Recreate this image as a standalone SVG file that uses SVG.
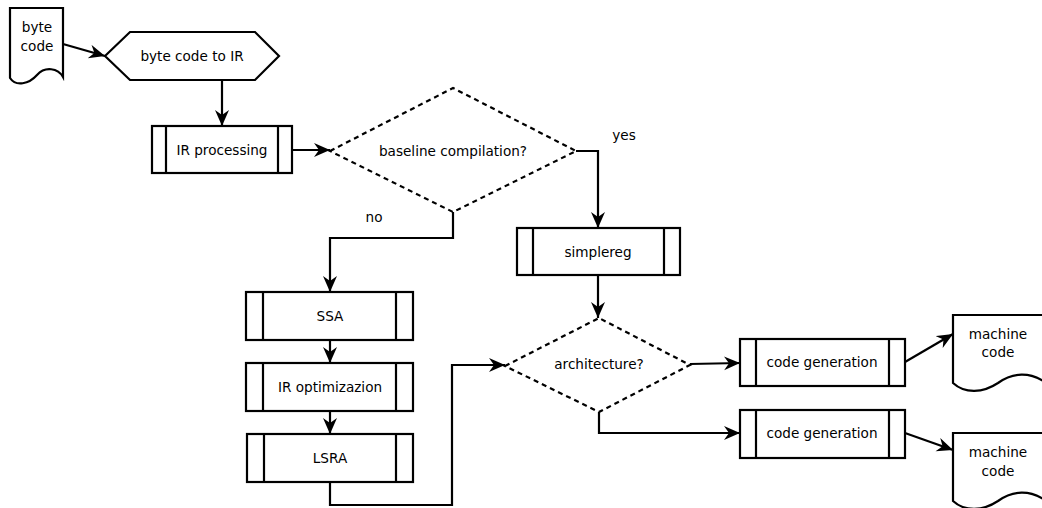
<svg xmlns="http://www.w3.org/2000/svg" width="1042" height="508" viewBox="0 0 1042 508">
<defs>
<marker id="ah" markerUnits="userSpaceOnUse" markerWidth="18" markerHeight="16" refX="16" refY="7" orient="auto">
<path d="M0,0 L16,7 L0,14 L5,7 Z" fill="#000"/>
</marker>
<style>
.s{fill:#fff;stroke:#000;stroke-width:2.2}
.d{fill:#fff;stroke:#000;stroke-width:2.2;stroke-dasharray:5,4}
.l{fill:none;stroke:#000;stroke-width:2.2}
.c{fill:none;stroke:#000;stroke-width:2.2;marker-end:url(#ah)}
text{font-family:"DejaVu Sans","Liberation Sans",sans-serif;font-size:13.6px;fill:#000;text-anchor:middle;dominant-baseline:central}
</style>
</defs>
<rect width="1042" height="508" fill="#fff"/>
<g id="connectors">
<path class="c" d="M63,44 L105,56"/>
<path class="c" d="M222,80 V126"/>
<path class="c" d="M292,150 H330"/>
<path class="c" d="M576,151 H598 V228"/>
<path class="c" d="M453,212 V238 H330 V292"/>
<path class="c" d="M330,340 V363"/>
<path class="c" d="M330,411 V434"/>
<path class="c" d="M330,482 V505 H452 V365 H505"/>
<path class="c" d="M598,275 V318"/>
<path class="c" d="M690,364 L740,363"/>
<path class="c" d="M599,412 V433 H740"/>
<path class="c" d="M905,362 L953,334"/>
<path class="c" d="M905,433 L953,450"/>
</g>
<g id="bytecode">
<path class="s" d="M10,8 H63 V77 C58,68 45,66 37,75 C29,84 16,87 10,78 Z"/>
<text x="37" y="27">byte</text>
<text x="37" y="46">code</text>
</g>
<g id="bc2ir">
<path class="s" d="M105,56 L130,32 L255,32 L279,56 L255,80 L130,80 Z"/>
<text x="192" y="56">byte code to IR</text>
</g>
<g id="irproc">
<rect class="s" x="152" y="126" width="140" height="47"/>
<path class="l" d="M166,126 V173 M278,126 V173"/>
<text x="222" y="150">IR processing</text>
</g>
<g id="baseline">
<path class="d" d="M330,151 L453,88 L576,151 L453,212 Z"/>
<text x="453" y="151">baseline compilation?</text>
</g>
<g id="labels">
<text x="624" y="135">yes</text>
<text x="374" y="217">no</text>
</g>
<g id="simplereg">
<rect class="s" x="517" y="228" width="163" height="47"/>
<path class="l" d="M533,228 V275 M664,228 V275"/>
<text x="598" y="252">simplereg</text>
</g>
<g id="ssa">
<rect class="s" x="246" y="292" width="167" height="48"/>
<path class="l" d="M263,292 V340 M396,292 V340"/>
<text x="330" y="316">SSA</text>
</g>
<g id="iropt">
<rect class="s" x="246" y="363" width="167" height="48"/>
<path class="l" d="M263,363 V411 M396,363 V411"/>
<text x="330" y="387">IR optimizazion</text>
</g>
<g id="lsra">
<rect class="s" x="247" y="434" width="166" height="48"/>
<path class="l" d="M264,434 V482 M396,434 V482"/>
<text x="330" y="458">LSRA</text>
</g>
<g id="arch">
<path class="d" d="M505,366 L599,318 L690,365 L599,412 Z"/>
<text x="599" y="364">architecture?</text>
</g>
<g id="codegen1">
<rect class="s" x="740" y="339" width="165" height="47"/>
<path class="l" d="M756,339 V386 M889,339 V386"/>
<text x="822" y="362">code generation</text>
</g>
<g id="codegen2">
<rect class="s" x="740" y="410" width="165" height="48"/>
<path class="l" d="M756,410 V458 M889,410 V458"/>
<text x="822" y="433">code generation</text>
</g>
<g id="machine1">
<path class="s" d="M953,315 H1045 V382 C1030,372 1013,372 998,383 C983,393 965,394 953,383 Z"/>
<text x="998" y="334">machine</text>
<text x="998" y="352">code</text>
</g>
<g id="machine2">
<path class="s" d="M953,433 H1045 V500 C1030,490 1013,490 998,501 C983,511 965,512 953,501 Z"/>
<text x="998" y="452">machine</text>
<text x="998" y="471">code</text>
</g>
</svg>
